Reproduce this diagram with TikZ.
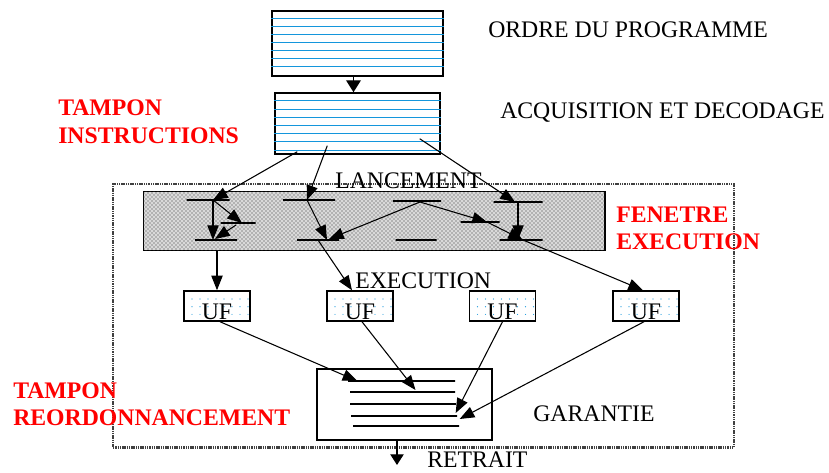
\documentclass[tikz,border=0pt]{standalone}
\usepackage{fontspec}
\setmainfont{Liberation Serif}
\usepackage{xcolor}
\usetikzlibrary{arrows.meta,positioning,calc,patterns}
\definecolor{lineblue}{RGB}{20,150,220}
\definecolor{tagred}{RGB}{255,0,0}

\begin{document}
\begin{tikzpicture}[
  x=0.75pt, y=-0.75pt,
  font=\fontsize{17.8}{20.8}\selectfont,
  box/.style={draw, line width=1.1pt, inner sep=0pt},
  slot/.style={draw, line width=1pt, inner sep=0pt, minimum height=0pt, minimum width=#1*0.75pt},
  bline/.style={lineblue, line width=0.8pt},
  ufbox/.style={box, fill=white, minimum width=66*0.75pt, minimum height=30*0.75pt,
    text height=21pt, text depth=0pt,
    path picture={\foreach \i in {0,...,7} \foreach \j in {0,1,2}
      \fill[lineblue] ($(path picture bounding box.north west)+(8+\i*8,8+\j*7.7)$) circle (0.45pt);}},
  arr/.style={-{Triangle[length=11pt,width=8.5pt]}, line width=0.8pt},
  bigarr/.style={-{Triangle[length=9pt,width=11pt]}, line width=1.1pt},
  lbl/.style={anchor=base west, inner sep=0pt},
  tag/.style={lbl, align=left, text=tagred, font=\fontsize{17.8}{20.8}\selectfont\bfseries}
]
\useasboundingbox (0,0) rectangle (829,473);

% fenetre d'execution (cadre)
\node[draw=black!75, line width=1.8pt, dash pattern=on 1.1pt off 0.6pt, inner sep=0pt,
  minimum width=621*0.75pt, minimum height=263.5*0.75pt] (frame) at (423.5,315.75) {};

% tampons d'instructions
\node[box, minimum width=171*0.75pt, minimum height=65*0.75pt] (prog) at (357.5,43.5) {};
\foreach \i in {1,...,7}
  \draw[bline] ($(prog.north west)+(0,\i*8.1)$) -- ($(prog.north east)+(0,\i*8.1)$);
\node[box, minimum width=165*0.75pt, minimum height=61*0.75pt] (acq) at (357.5,123.5) {};
\foreach \i in {1,...,7}
  \draw[bline] ($(acq.north west)+(0,\i*8.2+0.4)$) -- ($(acq.north east)+(0,\i*8.2+0.4)$);
\draw[bigarr] ($(prog.south)+(-4,0)$) -- ($(acq.north)+(-4,0)$);

% fenetre
\node[draw, line width=0.9pt, inner sep=0pt, fill=black!15,
  postaction={pattern=crosshatch dots, pattern color=black!80},
  minimum width=461.5*0.75pt, minimum height=59*0.75pt] (win) at (374.25,221) {};
\foreach \n/\x/\y/\w in {a1/208/200/43, a2/309/200/52, a3/417/201/48, a4/518/202/49,
    b1/238/223/35, b2/480/222/39,
    c1/216/240/42, c2/318/240/42, c3/416/240/41, c4/521/240/43}
  \node[slot=\w] (\n) at (\x,\y) {};

% lancement
\draw[arr] ($(acq.south west)+(23,-3)$) -- ($(a1)+(5,0)$);
\draw[arr] ($(acq.south west)+(53,-9)$) -- ($(a2)+(-2,0)$);
\draw[arr] ($(acq.south east)+(-21,-16)$) -- ($(a4)+(-3,0)$);
\draw[arr] ($(a1)+(5,0)$) -- ($(c1)+(-3,0)$);
\draw[arr] ($(a1)+(5,0)$) -- ($(b1)+(4,0)$);
\draw[arr] ($(b1)+(-2,2)$) -- ($(c1)+(-1,-1)$);
\draw[arr] ($(a2)+(-2,0)$) -- ($(c2)+(9,0)$);
\draw[arr] ($(a3)+(3,1)$) -- ($(c2)+(11,-1)$);
\draw[arr] ($(a3)+(3,1)$) -- ($(b2)+(7,0)$);
\draw[arr] ($(b2)+(7,0)$) -- ($(c4)+(2,0)$);
\draw[arr] (a4) -- ($(c4)+(-3,0)$);

% unites fonctionnelles
\node[ufbox] (uf1) at (217,306) {UF};
\node[ufbox] (uf2) at (360,306) {UF};
\node[ufbox] (uf3) at (502.5,306) {UF};
\node[ufbox] (uf4) at (646,306) {UF};
\draw[arr] (uf1.north |- win.south) -- (uf1.north);
\draw[arr] (c2) -- ($(uf2.north)+(-8,0)$);
\draw[arr] ($(c4)+(2,0)$) -- ($(uf4.north)+(-3,0)$);

% tampon de reordonnancement
\node[box, minimum width=175*0.75pt, minimum height=71*0.75pt] (buf) at (404.5,404.5) {};
\foreach \n/\x/\y/\w in {r1/401.5/381/107, r2/402.5/392/105, r3/403/404/106,
    r4/404/416/106, r5/406/426/106}
  \node[slot=\w] (\n) at (\x,\y) {};
\draw[arr] ($(uf1.south)+(3,0)$) -- ($(r1.west)+(10,0)$);
\draw[arr] ($(uf2.south)+(2,0)$) -- ($(r2)+(13,-2)$);
\draw[arr] (uf3.south) -- ($(r4.east)+(-2,-3)$);
\draw[arr] ($(uf4.south)+(-2,0)$) -- ($(r5.east)+(0,-7)$);
\coordinate (out) at (397,465);
\draw[-{Triangle[length=8pt,width=10pt]}, line width=0.9pt] (out |- buf.south) -- (out);

% textes
\node[lbl] (ordre) at (488,38) {ORDRE DU PROGRAMME};
\node[lbl] (acqlbl) at (500,119) {ACQUISITION ET DECODAGE};
\node[lbl] (lanc) at (335,189) {LANCEMENT};
\node[lbl] (exec) at (355,289) {EXECUTION};
\node[lbl] (gar) at (533,421.5) {GARANTIE};
\node[lbl] (retr) at (427,468) {RETRAIT};
\node[tag] (tinst) at (58,143.3) {TAMPON\\INSTRUCTIONS};
\node[tag] (fen) at (616,250) {FENETRE\\EXECUTION};
\node[tag] (treord) at (13,426) {TAMPON\\REORDONNANCEMENT};
\end{tikzpicture}
\end{document}
